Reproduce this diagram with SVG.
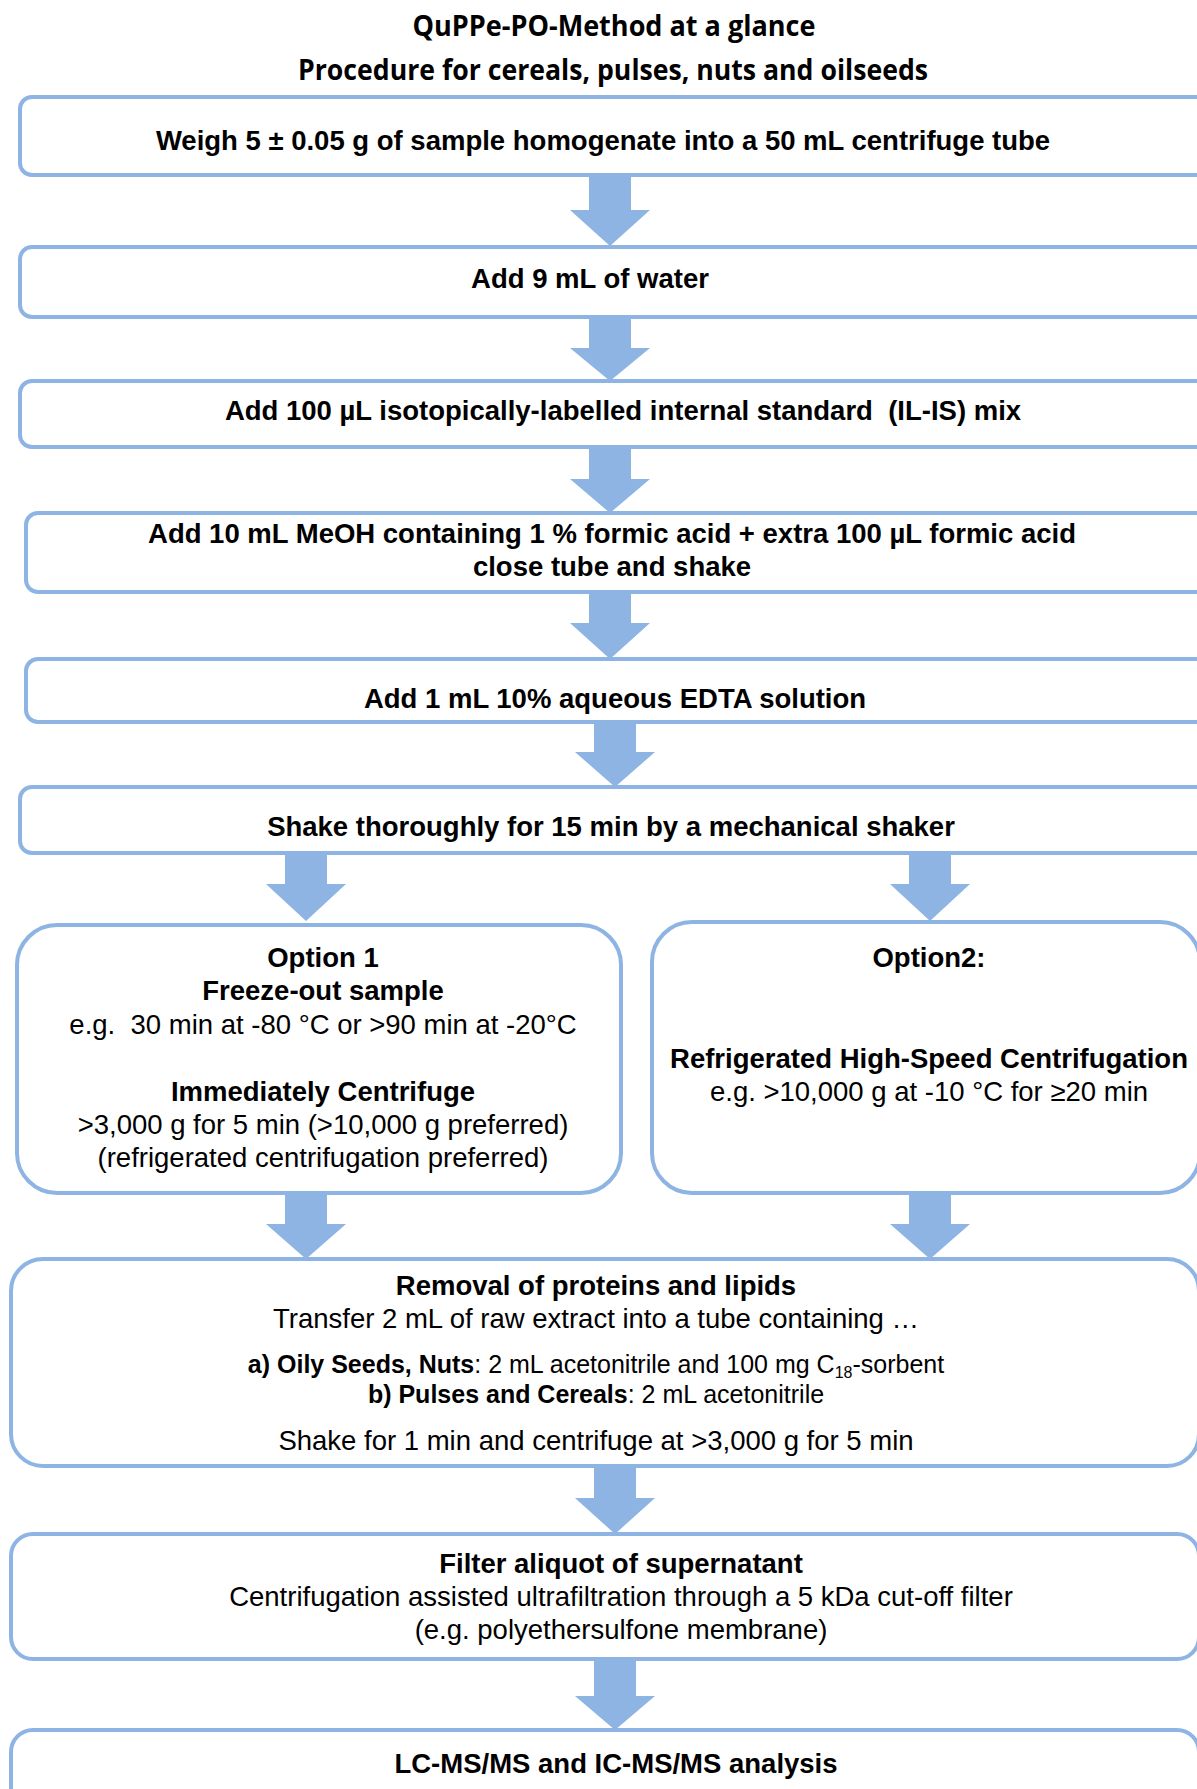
<svg xmlns="http://www.w3.org/2000/svg" width="1197" height="1789" viewBox="0 0 1197 1789">
<style>
.box{fill:#fff;stroke:#8EB4E3;stroke-width:4}
.arr{fill:#8EB4E3}
text{font-family:"Liberation Sans",Arial,sans-serif;font-size:27.5px;fill:#000;text-anchor:middle}
.b{font-weight:bold}
.t{font-family:"Open Sans",Lato,sans-serif;font-weight:bold;font-size:28px}
.s{font-size:25px}
</style>
<rect width="1197" height="1789" fill="#fff"/>
<g id="title">
<text class="t" x="614" y="36" textLength="403" lengthAdjust="spacingAndGlyphs">QuPPe-PO-Method at a glance</text>
<text class="t" x="613" y="80" textLength="630" lengthAdjust="spacingAndGlyphs">Procedure for cereals, pulses, nuts and oilseeds</text>
</g>
<g id="n1"><rect class="box" x="20" y="97" width="1260" height="78" rx="12"/>
<text class="b" x="603" y="150">Weigh 5 ± 0.05 g of sample homogenate into a 50 mL centrifuge tube</text></g>
<g id="n2"><rect class="box" x="20" y="247" width="1260" height="70" rx="12"/>
<text class="b" x="590" y="288">Add 9 mL of water</text></g>
<g id="n3"><rect class="box" x="20" y="381" width="1260" height="66" rx="12"/>
<text class="b" x="623" y="420" style="white-space:pre">Add 100 µL isotopically-labelled internal standard  (IL-IS) mix</text></g>
<g id="n4"><rect class="box" x="26" y="513" width="1260" height="79" rx="12"/>
<text class="b" x="612" y="543">Add 10 mL MeOH containing 1 % formic acid + extra 100 µL formic acid</text>
<text class="b" x="612" y="576">close tube and shake</text></g>
<g id="n5"><rect class="box" x="26" y="659" width="1260" height="63" rx="12"/>
<text class="b" x="615" y="708">Add 1 mL 10% aqueous EDTA solution</text></g>
<g id="n6"><rect class="box" x="20" y="787" width="1260" height="66" rx="12"/>
<text class="b" x="611" y="836">Shake thoroughly for 15 min by a mechanical shaker</text></g>
<g id="opt1"><rect class="box" x="17" y="925" width="604" height="268" rx="40"/>
<text class="b" x="323" y="967">Option 1</text>
<text class="b" x="323" y="1000">Freeze-out sample</text>
<text x="323" y="1034" style="white-space:pre">e.g.  30 min at -80 °C or &gt;90 min at -20°C</text>
<text class="b" x="323" y="1101">Immediately Centrifuge</text>
<text x="323" y="1134">&gt;3,000 g for 5 min (&gt;10,000 g preferred)</text>
<text x="323" y="1167">(refrigerated centrifugation preferred)</text></g>
<g id="opt2"><rect class="box" x="652" y="922" width="548" height="271" rx="40"/>
<text class="b" x="929" y="967">Option2:</text>
<text class="b" x="929" y="1068">Refrigerated High-Speed Centrifugation</text>
<text x="929" y="1101">e.g. &gt;10,000 g at -10 °C for ≥20 min</text></g>
<g id="n7"><rect class="box" x="11" y="1259" width="1188" height="207" rx="32"/>
<text class="b" x="596" y="1295">Removal of proteins and lipids</text>
<text x="596" y="1328">Transfer 2 mL of raw extract into a tube containing …</text>
<text class="s" x="596" y="1373"><tspan class="b">a) Oily Seeds, Nuts</tspan>: 2 mL acetonitrile and 100 mg C<tspan font-size="16" dy="5">18</tspan><tspan dy="-5">-sorbent</tspan></text>
<text class="s" x="596" y="1403"><tspan class="b">b) Pulses and Cereals</tspan>: 2 mL acetonitrile</text>
<text x="596" y="1450">Shake for 1 min and centrifuge at &gt;3,000 g for 5 min</text></g>
<g id="n8"><rect class="box" x="11" y="1534" width="1188" height="125" rx="22"/>
<text class="b" x="621" y="1573">Filter aliquot of supernatant</text>
<text x="621" y="1606">Centrifugation assisted ultrafiltration through a 5 kDa cut-off filter</text>
<text x="621" y="1639">(e.g. polyethersulfone membrane)</text></g>
<g id="n9"><rect class="box" x="11" y="1730" width="1188" height="120" rx="22"/>
<text class="b" x="616" y="1773">LC-MS/MS and IC-MS/MS analysis</text></g>
<g id="connectors">
<path class="arr" d="M589,177H631V210H650L610,246L570,210H589Z"/>
<path class="arr" d="M589,317H631V348H650L610,381L570,348H589Z"/>
<path class="arr" d="M589,447H631V479H650L610,513L570,479H589Z"/>
<path class="arr" d="M589,592H631V623H650L610,659L570,623H589Z"/>
<path class="arr" d="M594,722H636V752H655L615,787L575,752H594Z"/>
<path class="arr" d="M285,853H327V884H346L306,921L266,884H285Z"/>
<path class="arr" d="M909,853H951V884H970L930,921L890,884H909Z"/>
<path class="arr" d="M285,1193H327V1224H346L306,1259L266,1224H285Z"/>
<path class="arr" d="M909,1193H951V1224H970L930,1259L890,1224H909Z"/>
<path class="arr" d="M594,1466H636V1498H655L615,1534L575,1498H594Z"/>
<path class="arr" d="M594,1659H636V1696H655L615,1730L575,1696H594Z"/>
</g>
</svg>
